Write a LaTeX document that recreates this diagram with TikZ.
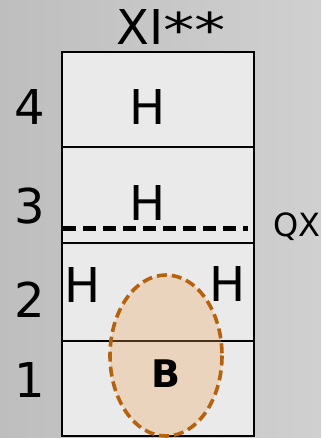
\documentclass[tikz,border=0pt]{standalone}
\usepackage{fontspec}
\setmainfont{DejaVu Sans}
\usepackage{graphicx}
\begin{document}
\begin{tikzpicture}[x=1pt,y=-1pt,
  big/.style={font=\fontsize{48}{48}\selectfont, inner sep=0pt, anchor=base},
  mid/.style={font=\fontsize{32}{32}\selectfont, inner sep=0pt, anchor=base west},
  bold/.style={font=\fontsize{38}{38}\selectfont\bfseries, inner sep=0pt, anchor=base},
  cell/.style={draw=black, line width=2.6pt, fill=cellgray},
]
\definecolor{cellgray}{RGB}{234,234,234}
\definecolor{bgL}{RGB}{190,190,190}
\definecolor{bgR}{RGB}{208,208,208}
\definecolor{eggfill}{RGB}{237,164,87}
\definecolor{eggline}{RGB}{181,98,15}
\useasboundingbox (0,0) rectangle (321,438);
\shade[left color=bgL, right color=bgR] (0,0) rectangle (321,438);
% rows
\draw[cell] (62,52) rectangle (254,147);
\draw[cell] (62,147) rectangle (254,243);
\draw[cell] (62,243) rectangle (254,341);
\draw[cell] (62,341) rectangle (254,436);
% egg
\fill[eggfill, fill opacity=0.3] (166,355.5) ellipse [x radius=56, y radius=80.5];
\draw[eggline, line width=3.6pt, dash pattern=on 10pt off 5pt] (166,355.5) ellipse [x radius=56, y radius=80.5];
% dashed level line
\coordinate (dl) at (63,228);
\coordinate (dr) at (248,228);
\draw[line width=5pt, dash pattern=on 13pt off 7pt] (dl) -- (dr);
% labels
\node[big] (t4) at (29.5,125) {4};
\node[big] (t3) at (29.5,223) {3};
\node[big] (t2) at (29.5,317) {2};
\node[big] (t1) at (30,397) {1};
\node[big] (h4) at (147.5,125) {H};
\node[big] (h3) at (147.5,220) {H};
\node[big] (h2l) at (83,302) {H};
\node[big] (h2r) at (227.5,301) {H};
\node[bold] (b) at (166,387) {B};
\node[big, anchor=base west] (title) at (116,45) {XI\raisebox{-3pt}{\scalebox{1.3}[1.0]{*}}\raisebox{-3pt}{\scalebox{1.3}[1.0]{*}}};
\node[mid] (qx) at (273.5,236) {QX};
\end{tikzpicture}
\end{document}
